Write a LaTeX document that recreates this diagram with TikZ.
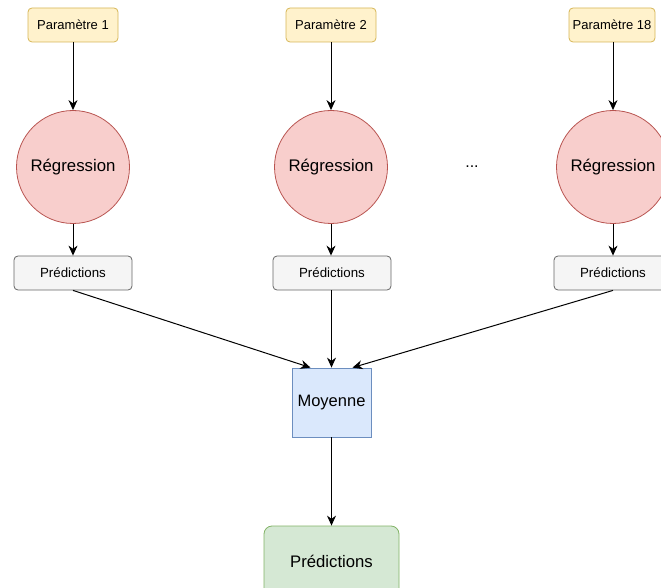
\documentclass[tikz,border=0pt]{standalone}
\usepackage{fontspec}
\setmainfont{Liberation Sans}
\usetikzlibrary{arrows.meta}
\definecolor{yfill}{HTML}{FFF2CC}\definecolor{ydraw}{HTML}{D6B656}
\definecolor{rfill}{HTML}{F8CECC}\definecolor{rdraw}{HTML}{B85450}
\definecolor{gfill}{HTML}{F5F5F5}\definecolor{gdraw}{HTML}{666666}
\definecolor{bfill}{HTML}{DAE8FC}\definecolor{bdraw}{HTML}{6C8EBF}
\definecolor{vfill}{HTML}{D5E8D4}\definecolor{vdraw}{HTML}{82B366}
\tikzset{
  parambox/.style={draw=ydraw,fill=yfill,rounded corners=4pt,minimum width=90pt,minimum height=34pt,inner sep=0pt,font=\fontsize{13}{15}\selectfont,line width=0.8pt},
  regcircle/.style={circle,draw=rdraw,fill=rfill,minimum size=113pt,inner sep=0pt,font=\fontsize{16.8}{19}\selectfont,line width=0.8pt},
  predbox/.style={draw=gdraw,fill=gfill,rounded corners=4pt,minimum width=118pt,minimum height=34pt,inner sep=0pt,font=\fontsize{13.3}{15}\selectfont,line width=0.8pt},
  moybox/.style={draw=bdraw,fill=bfill,minimum width=79pt,minimum height=69pt,inner sep=0pt,font=\fontsize{16.5}{19}\selectfont,line width=0.8pt},
  finalbox/.style={draw=vdraw,fill=vfill,rounded corners=8pt,minimum width=135pt,minimum height=70pt,inner sep=0pt,font=\fontsize{16.7}{19}\selectfont,line width=0.8pt},
  conn/.style={line width=1pt,-{Stealth[length=10pt,width=9pt]}}
}
\begin{document}
\begin{tikzpicture}[x=1pt,y=-1pt]
\useasboundingbox (0,0) rectangle (661,588);
\clip (0,0) rectangle (661,588);
\node[parambox] (p1) at (73,25) {Paramètre 1};
\node[parambox] (p2) at (331,25) {Paramètre 2};
\node[parambox,minimum width=86pt] (p3) at (612,25) {Paramètre 18};
\node[regcircle] (r1) at (73,167) {Régression};
\node[regcircle] (r2) at (331,167) {Régression};
\node[regcircle] (r3) at (613,167) {Régression};
\node[font=\fontsize{16}{19}\selectfont] (dots) at (472,167) {...};
\node[predbox] (s1) at (73,273) {Prédictions};
\node[predbox] (s2) at (332,273) {Prédictions};
\node[predbox] (s3) at (613,273) {Prédictions};
\node[moybox] (m) at (331.5,402.5) {Moyenne};
\node[finalbox] (f) at (331.5,561) {Prédictions};
\draw[conn] (p1) -- (r1);
\draw[conn] (p2) -- (r2);
\draw[conn] (p3.south -| r3) -- (r3);
\draw[conn] (r1) -- (s1);
\draw[conn] (r2) -- (s2.north -| r2);
\draw[conn] (r3) -- (s3);
\draw[conn] (s1.south) -- ([xshift=-21pt]m.north);
\draw[conn] (s2.south -| m) -- (m.north);
\draw[conn] (s3.south) -- ([xshift=21pt]m.north);
\draw[conn] (m) -- (f);
\end{tikzpicture}
\end{document}
